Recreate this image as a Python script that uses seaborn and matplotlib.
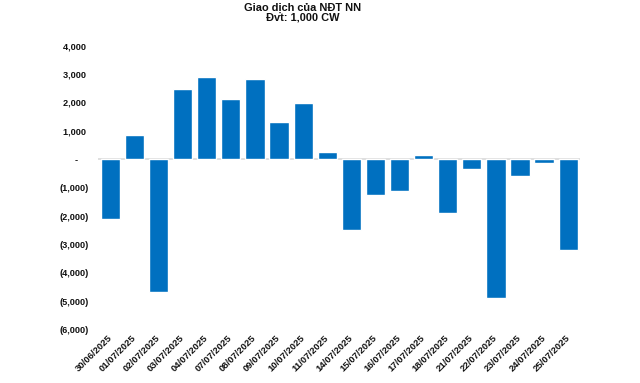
import matplotlib
matplotlib.use("Agg")
import matplotlib.pyplot as plt
import seaborn as sns
import pandas as pd
from matplotlib.ticker import FuncFormatter, MultipleLocator

dates = ["30/06/2025", "01/07/2025", "02/07/2025", "03/07/2025", "04/07/2025",
         "07/07/2025", "08/07/2025", "09/07/2025", "10/07/2025", "11/07/2025",
         "14/07/2025", "15/07/2025", "16/07/2025", "17/07/2025", "18/07/2025",
         "21/07/2025", "22/07/2025", "23/07/2025", "24/07/2025", "25/07/2025"]
values = [-2090, 855, -4690, 2475, 2895,
          2120, 2825, 1313, 1980, 258,
          -2475, -1243, -1100, 150, -1875,
          -330, -4900, -575, -120, -3177]
title_line1 = "Giao dịch của NĐT NN"
title_line2 = "Đvt: 1,000 CW"

sns.set_theme(style="white")
plt.rcParams['font.family'] = ['Liberation Sans', 'DejaVu Sans']

df = pd.DataFrame({"date": dates, "value": values})

fig = plt.figure(figsize=(6.4, 3.83), dpi=100)
ax = fig.add_axes([0.1536, 0.1392, 0.7531, 0.7415])

sns.barplot(data=df, x="date", y="value", color="#0070C0", saturation=1,
            width=0.8, ax=ax)

ax.axhline(0, color="#d9d9d9", lw=1.2, zorder=0.5)
ax.set_ylim(-6000, 4000)
ax.set_xlim(-0.5, len(dates) - 0.5)
ax.yaxis.set_major_locator(MultipleLocator(1000))


def fmt(v, pos):
    if abs(v) < 1e-9:
        return "-    "
    if v < 0:
        return "({:,.0f})".format(-v)
    return "{:,.0f} ".format(v)


ax.yaxis.set_major_formatter(FuncFormatter(fmt))
for s in ax.spines.values():
    s.set_visible(False)
ax.set_xlabel("")
ax.set_ylabel("")
ax.tick_params(axis="y", length=0, pad=7, labelsize=6.6, labelcolor="#111111")
ax.tick_params(axis="x", length=0, pad=5, labelsize=6.8, labelcolor="#111111")
for lab in ax.get_yticklabels():
    lab.set_fontweight("bold")
for lab in ax.get_xticklabels():
    lab.set_fontweight("bold")
    lab.set_rotation(45)
    lab.set_ha("right")
    lab.set_va("center")
    lab.set_rotation_mode("anchor")

fig.text(0.473, 0.9713, title_line1, ha="center", va="baseline",
         fontsize=7.9, fontweight="bold", color="#111111")
fig.text(0.473, 0.9465, title_line2, ha="center", va="baseline",
         fontsize=7.9, fontweight="bold", color="#111111")

fig.savefig("out.png", dpi=100)
